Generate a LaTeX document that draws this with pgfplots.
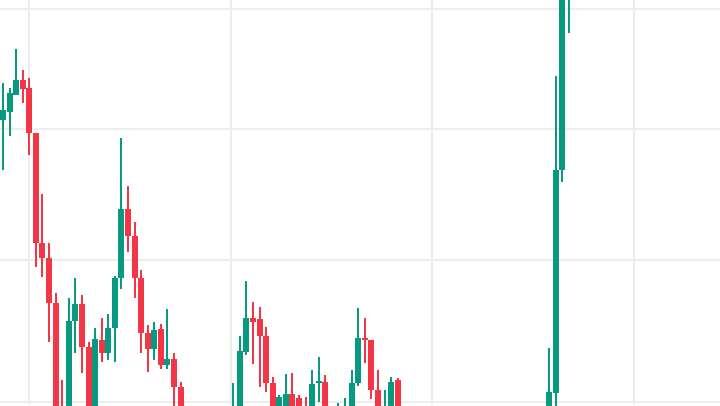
\documentclass[border=0pt]{standalone}
\usepackage{pgfplots}
\usepackage{pgfplotstable}
\pgfplotsset{compat=1.18}
\definecolor{upc}{HTML}{089981}
\definecolor{downc}{HTML}{F23645}
\definecolor{gridc}{HTML}{EDEDED}

\pgfplotstableread{
i o h l c
0 285 322 235 295
1 293 317 269 312
2 310 356 310 325
10 -20 107 -30 84
11 84 127 52 101
14 -15 77 -25 66
16 52 91 45 77
17 77 129 43 127
18 127 267 116 196
23 56 83 45 75
25 40 96 36 46
35 -30 22 -35 -5
36 -15 69 -25 54
37 53 124 50 87
42 -15 10 -20 8
43 -15 31 -20 11
47 -15 35 -20 21
48 23 48 3 24
51 -20 2 -25 -5
52 -20 7 -25 -5
53 -15 35 -20 22
54 22 97 19 67
58 -20 15 -25 -5
59 -15 28 -20 23
83 -15 57 -20 13
84 12 329 -2 235
85 235 500 223 470
86 430 520 372 480
}\upcandles

\pgfplotstableread{
i o h l c
3 325 335 302 316
4 317 327 250 272
5 272 272 138 162
6 162 211 128 147
7 147 162 63 102
8 102 112 -25 -15
9 -10 25 -50 -40
12 101 110 32 58
13 58 63 -25 -15
15 65 87 43 52
19 196 219 153 169
20 169 183 107 127
21 127 135 52 72
22 72 80 33 56
24 76 81 36 40
26 46 52 -5 18
27 18 23 -25 -15
38 87 103 41 83
39 86 98 18 69
40 69 78 13 22
41 22 28 -25 -15
44 11 32 -20 -15
45 7 10 -20 -15
46 -5 8 -25 -20
49 23 30 -20 -15
55 67 87 42 65
56 65 65 6 15
57 15 35 -20 -15
60 25 27 -20 -15
}\downcandles

\pgfplotsset{candle/.style={only marks, mark=*, mark size=0pt,
  mark options={draw=none, fill=none}, forget plot}}

\begin{document}
\begin{tikzpicture}
\begin{axis}[
  width=720pt, height=405pt, scale only axis,
  xmin=-0.456, xmax=109.0, ymin=0, ymax=405,
  axis line style={draw=none},
  xtick={3.95,34.66,65.22,95.93}, ytick={3,145,276,396},
  xticklabels={}, yticklabels={},
  major tick length=0pt,
  grid=major, major grid style={gridc, line width=1.5pt},
  clip=true,
]
\addplot[candle,
  error bars/.cd, y dir=both, y explicit, error mark=none,
  error bar style={line width=2pt, upc}]
  table[x=i, y expr={(\thisrow{h}+\thisrow{l})/2}, y error expr={(\thisrow{h}-\thisrow{l})/2}] {\upcandles};
\addplot[candle,
  error bars/.cd, y dir=both, y explicit, error mark=none,
  error bar style={line width=6pt, upc}]
  table[x=i, y expr={(\thisrow{o}+\thisrow{c})/2}, y error expr={max(abs(\thisrow{o}-\thisrow{c})/2,0.75)}] {\upcandles};
\addplot[candle,
  error bars/.cd, y dir=both, y explicit, error mark=none,
  error bar style={line width=2pt, downc}]
  table[x=i, y expr={(\thisrow{h}+\thisrow{l})/2}, y error expr={(\thisrow{h}-\thisrow{l})/2}] {\downcandles};
\addplot[candle,
  error bars/.cd, y dir=both, y explicit, error mark=none,
  error bar style={line width=6pt, downc}]
  table[x=i, y expr={(\thisrow{o}+\thisrow{c})/2}, y error expr={max(abs(\thisrow{o}-\thisrow{c})/2,0.75)}] {\downcandles};
\end{axis}
\pgfresetboundingbox
\path[use as bounding box] (current axis.south west) rectangle (current axis.north east);
\end{tikzpicture}
\end{document}
